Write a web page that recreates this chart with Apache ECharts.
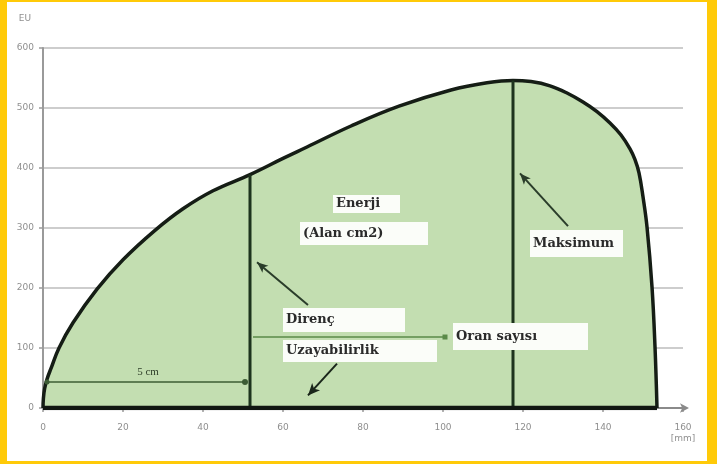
<!DOCTYPE html>
<html>
<head>
<meta charset="utf-8">
<script src="https://cdn.jsdelivr.net/npm/echarts@6/dist/echarts.min.js"></script>
<style>
html,body{margin:0;padding:0;width:717px;height:464px;background:#FFCA08;overflow:hidden;}
#paper{position:absolute;left:7px;top:2px;width:700px;height:459px;background:#ffffff;}
#chart{position:absolute;left:0;top:0;width:717px;height:464px;}
</style>
</head>
<body>
<div id="paper"></div>
<div id="chart"></div>
<script>
// ---- data ----
const xTicks = [0, 20, 40, 60, 80, 100, 120, 140, 160];
const yTicks = [0, 100, 200, 300, 400, 500, 600];
const xUnit = '[mm]';
const yUnit = 'EU';

const curveX = [0, 0.1, 0.4, 1, 2, 4, 7.5, 13.5, 20, 28, 35, 42.5, 51.75, 60, 66, 77, 89, 102, 111, 117.5, 122, 126.75, 131, 135, 138.5, 141.75, 144.5, 146.75, 148, 149, 150, 151, 152.25, 153, 153.5];
const curveY = [0, 16, 32, 48, 66, 100, 142, 198, 247, 296, 332, 362, 389, 416, 435, 470, 503, 530, 542, 546, 544, 537, 525, 510, 494, 475, 455, 432, 414, 392, 352, 302, 202, 102, 0];

const resistanceX = 51.75;   // 5 cm
const resistanceY = 389;
const maximumX = 117.5;
const maximumY = 546;
const extensibilityX = 153.5;

const labelTexts = ['Enerji', '(Alan cm2)', 'Direnç', 'Uzayabilirlik', 'Oran sayısı', 'Maksimum'];
const fiveCmText = '5 cm';

// ---- layout of annotations (data units) ----
const boxes = [
  [72.5, 355, 89.25, 325],
  [64.25, 310, 96.25, 271.7],
  [60, 166.7, 90.5, 126.7],
  [60, 113.3, 98.5, 76.7],
  [102.5, 141.7, 136.25, 96.7],
  [121.75, 296.7, 145, 251.7]
];

const chart = echarts.init(document.getElementById('chart'), null, {renderer: 'canvas'});

const curveData = curveX.map((x, i) => [x, curveY[i]]);

const option = {
  backgroundColor: 'transparent',
  animation: false,
  grid: {left: 43, right: 34, top: 48, bottom: 56, containLabel: false},
  xAxis: {
    type: 'value', min: xTicks[0], max: xTicks[xTicks.length - 1], interval: 20,
    axisLine: {show: true, lineStyle: {color: '#8a8a8a', width: 2}, symbol: ['none', 'arrow'], symbolSize: [7, 9], symbolOffset: [0, 6]},
    axisTick: {show: true, length: 4, lineStyle: {color: '#9a9a9a', width: 1.5}},
    axisLabel: {
      color: '#8f8f8f', fontSize: 9, fontFamily: 'DejaVu Sans', margin: 14, lineHeight: 11,
      formatter: v => v === xTicks[xTicks.length - 1] ? v + '\n' + xUnit : String(v)
    },
    splitLine: {show: false}
  },
  yAxis: {
    type: 'value', min: yTicks[0], max: yTicks[yTicks.length - 1], interval: 100,
    name: yUnit, nameLocation: 'end', nameGap: 25,
    nameTextStyle: {color: '#8f8f8f', fontSize: 9, fontFamily: 'DejaVu Sans', align: 'right', padding: [0, 12, 0, 0]},
    axisLine: {show: true, lineStyle: {color: '#9a9a9a', width: 2}},
    axisTick: {show: true, length: 4, lineStyle: {color: '#9a9a9a', width: 1.5}},
    axisLabel: {color: '#8f8f8f', fontSize: 9, fontFamily: 'DejaVu Sans', margin: 9},
    splitLine: {show: true, lineStyle: {color: '#bdbdbd', width: 1.6}}
  },
  series: [
    {
      type: 'line', data: curveData, smooth: 0.4, symbol: 'none', z: 3,
      lineStyle: {color: '#151d15', width: 3.5},
      areaStyle: {color: '#c3deb1', opacity: 1}
    },
    {
      type: 'line', data: [[resistanceX, 0], [resistanceX, resistanceY]], symbol: 'none', z: 4,
      lineStyle: {color: '#1d331d', width: 3}
    },
    {
      type: 'line', data: [[maximumX, 0], [maximumX, maximumY]], symbol: 'none', z: 4,
      lineStyle: {color: '#1d331d', width: 3}
    },
    {
      type: 'line', data: [[0, 0], [extensibilityX, 0]], symbol: 'none', z: 5,
      lineStyle: {color: '#111611', width: 4.5}
    },
    {
      type: 'line', data: [], z: 6,
      markLine: {
        silent: true, animation: false,
        label: {show: false},
        lineStyle: {type: 'solid'},
        data: [
          [{coord: [66.25, 171.7], symbol: 'none', lineStyle: {color: '#2a3d2a', width: 2, type: 'solid'}}, {coord: [53.5, 243], symbol: 'arrow', symbolSize: [7, 11]}],
          [{coord: [73.5, 74], symbol: 'none', lineStyle: {color: '#1a261a', width: 2, type: 'solid'}}, {coord: [66.25, 21], symbol: 'arrow', symbolSize: [8, 12]}],
          [{coord: [131.25, 303], symbol: 'none', lineStyle: {color: '#2a3d2a', width: 2, type: 'solid'}}, {coord: [119.25, 391], symbol: 'arrow', symbolSize: [7, 11]}],
          [{coord: [1, 43.3], symbol: 'circle', symbolSize: 5, lineStyle: {color: '#3d5c35', width: 1.5, type: 'solid'}}, {coord: [50.5, 43.3], symbol: 'circle', symbolSize: 6}],
          [{coord: [52.5, 118.3], symbol: 'none', lineStyle: {color: '#5a8a48', width: 1.5, type: 'solid'}}, {coord: [100.5, 118.3], symbol: 'rect', symbolSize: 5}]
        ]
      }
    }
  ]
};
chart.setOption(option);

function px(p) { return chart.convertToPixel({gridIndex: 0}, p); }

const graphics = [];
boxes.forEach((b, i) => {
  const a = px([b[0], b[1]]);
  const c = px([b[2], b[3]]);
  graphics.push({
    type: 'rect', z: 50,
    shape: {x: a[0], y: a[1], width: c[0] - a[0], height: c[1] - a[1]},
    style: {fill: '#fbfdf9'}
  });
  graphics.push({
    type: 'text', z: 51,
    x: a[0] + 3, y: (a[1] + c[1]) / 2,
    style: {text: labelTexts[i], fill: '#2a2a2a', font: 'bold 13px "DejaVu Serif"', textVerticalAlign: 'middle', textAlign: 'left'}
  });
});
const f = px([26.25, 60]);
graphics.push({
  type: 'text', z: 51, x: f[0], y: f[1],
  style: {text: fiveCmText, fill: '#2f3f2a', font: '11px "Liberation Serif"', textVerticalAlign: 'middle', textAlign: 'center'}
});
chart.setOption({graphic: graphics});
</script>
</body>
</html>
